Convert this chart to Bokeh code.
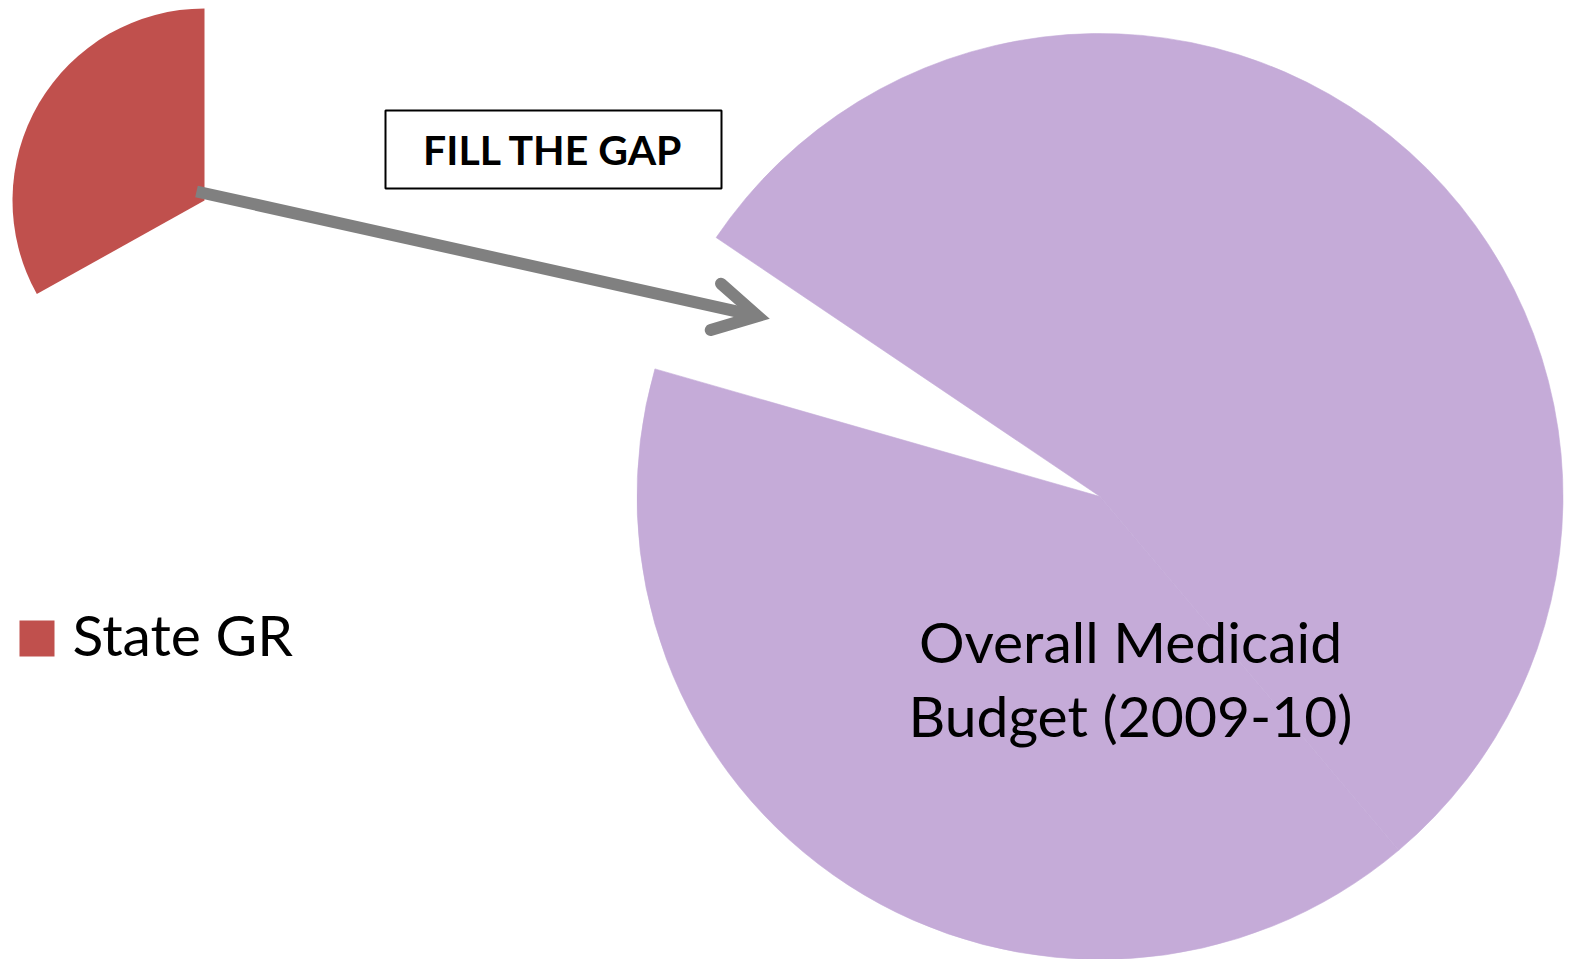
import numpy as np
from bokeh.plotting import figure
from bokeh.models import Range1d, ColumnDataSource, Label
from bokeh.embed import file_html
from bokeh.resources import INLINE

# ---------------- data ----------------
budget_slices = ["Overall Medicaid Budget (a)", "Overall Medicaid Budget (b)", "Gap"]
budget_shares = [40.6, 54.4, 5.0]          # percent of the large pie
budget_colors = ["#C5ABD8", "#C5ABD8", None]

state_slices = ["State GR"]
state_shares = [33.1]                       # percent of the small pie
state_colors = ["#C0504D"]

budget_label_lines = ["Overall Medicaid", "Budget (2009-10)"]
legend_label = "State GR"
callout_text = "FILL THE GAP"

# ---------------- layout (reference pixel space) ----------------
REF_W, REF_H = 1570, 959
W, H = 1570, 959


def sy(y):
    """reference screen y -> data y (y up)"""
    return REF_H - y


p = figure(width=W, height=H, x_range=Range1d(0, W), y_range=Range1d(REF_H - H, REF_H),
           output_backend="svg", toolbar_location=None, min_border=0,
           x_axis_location=None, y_axis_location=None)
p.grid.visible = False
p.outline_line_color = None
p.background_fill_color = "white"
p.border_fill_color = "white"


def pie_source(shares, colors, names, start_deg):
    fr = np.array(shares, dtype=float) / 100.0
    cum = np.concatenate([[0.0], np.cumsum(fr)])
    starts = start_deg + cum[:-1] * 360.0
    ends = start_deg + cum[1:] * 360.0
    keep = [i for i, c in enumerate(colors) if c is not None]
    return ColumnDataSource(dict(
        name=[names[i] for i in keep],
        start=np.radians(starts[keep]),
        end=np.radians(ends[keep]),
        color=[colors[i] for i in keep],
    ))


# large pie (gap left open)
big_cx, big_cy, big_r = 1099.5, sy(496), 463
src_big = pie_source(budget_shares, budget_colors, budget_slices, 164.0)
p.wedge(x=big_cx, y=big_cy, radius=big_r, start_angle="start", end_angle="end",
        direction="anticlock", fill_color="color", line_color="color", line_width=0.6,
        source=src_big)

# small pie (State GR)
sm_cx, sm_cy, sm_r = 204, sy(200), 192
src_sm = pie_source(state_shares, state_colors, state_slices, 90.0)
p.wedge(x=sm_cx, y=sm_cy, radius=sm_r, start_angle="start", end_angle="end",
        direction="anticlock", fill_color="color", line_color=None, source=src_sm)

# arrow
ARROW_COLOR = "#808080"
lw = 12
sx0, sy0 = 196, sy(191)
tip_outer = np.array([769.3, sy(318.3)])
d = tip_outer - np.array([sx0, sy0])
u = d / np.hypot(*d)
half = np.radians(29)
T = tip_outer - u * (lw / 2) / np.sin(half)
back = np.arctan2(-u[1], -u[0])
arm = 49
A1 = T + arm * np.array([np.cos(back + half), np.sin(back + half)])
A2 = T + arm * np.array([np.cos(back - half), np.sin(back - half)])
p.line([sx0, T[0]], [sy0, T[1]], line_color=ARROW_COLOR, line_width=lw, line_cap="butt")
p.line([A1[0], T[0], A2[0]], [A1[1], T[1], A2[1]], line_color=ARROW_COLOR, line_width=lw,
       line_cap="round", line_join="miter")

# callout box
p.quad(left=385, right=721, top=sy(110), bottom=sy(188), fill_color="white",
       line_color="black", line_width=2)
p.add_layout(Label(x=553, y=sy(149), text=callout_text, text_align="center",
                   text_baseline="alphabetic", text_font="Lato", text_font_style="bold",
                   text_font_size="41px", text_color="black"))

# pie label
for i, line in enumerate(budget_label_lines):
    p.add_layout(Label(x=1130, y=sy(640 + 74 * i), text=line, text_align="center",
                       text_baseline="alphabetic", text_font="Lato", text_font_size="57px",
                       text_color="black"))

# legend
p.quad(left=19, right=54, top=sy(620), bottom=sy(656), fill_color=state_colors[0], line_color=None)
p.add_layout(Label(x=72, y=sy(633), text=legend_label, text_align="left",
                   text_baseline="alphabetic", text_font="Lato", text_font_size="57px",
                   text_color="black"))

open("out.html", "w").write(file_html(p, INLINE))
